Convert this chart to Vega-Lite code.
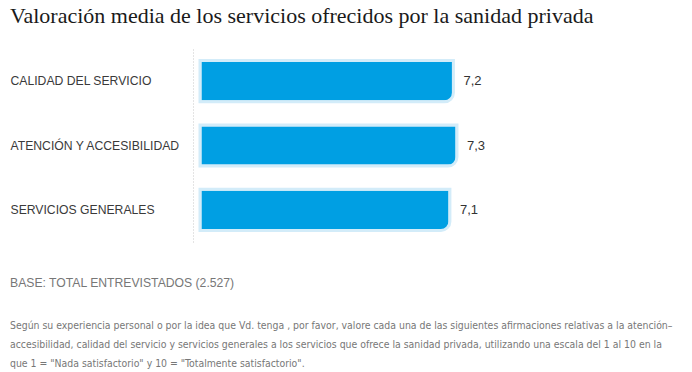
{
  "$schema": "https://vega.github.io/schema/vega-lite/v6.json",
  "background": "white",
  "padding": {"left": 10, "top": 5, "right": 5, "bottom": 0},
  "config": {
    "view": {"stroke": null},
    "locale": {"number": {"decimal": ",", "thousands": ".", "grouping": [3], "currency": ["", " €"]}}
  },
  "title": {
    "text": "Valoración media de los servicios ofrecidos por la sanidad privada",
    "anchor": "start",
    "font": "Liberation Serif",
    "fontSize": 22,
    "fontWeight": "normal",
    "color": "#1a1a1a",
    "offset": 21
  },
  "vconcat": [
    {
      "width": 352,
      "height": 193,
      "data": {
        "values": [
          {"servicio": "CALIDAD DEL SERVICIO", "valor": 7.2},
          {"servicio": "ATENCIÓN Y ACCESIBILIDAD", "valor": 7.3},
          {"servicio": "SERVICIOS GENERALES", "valor": 7.1}
        ]
      },
      "title": {
        "text": "BASE: TOTAL ENTREVISTADOS (2.527)",
        "orient": "bottom",
        "anchor": "start",
        "frame": "bounds",
        "font": "Liberation Sans",
        "fontSize": 12.2,
        "fontWeight": "normal",
        "color": "#777777",
        "offset": 35,
        "subtitle": [
          "Según su experiencia personal o por la idea que Vd. tenga , por favor, valore cada una de las siguientes afirmaciones relativas a la atención–",
          "accesibilidad, calidad del servicio y servicios generales a los servicios que ofrece la sanidad privada, utilizando una escala del 1 al 10 en la",
          "que 1 = \"Nada satisfactorio\" y 10 = \"Totalmente satisfactorio\"."
        ],
        "subtitleFont": "DejaVu Sans Condensed",
        "subtitleFontSize": 10.4,
        "subtitleColor": "#777777",
        "subtitleLineHeight": 19,
        "subtitlePadding": 32
      },
      "encoding": {
        "y": {
          "field": "servicio",
          "type": "nominal",
          "sort": null,
          "scale": {"paddingInner": 0.36, "paddingOuter": 0.18},
          "axis": {
            "title": null,
            "domain": true,
            "domainColor": "#c8c8c8",
            "domainDash": [1, 2],
            "domainWidth": 1,
            "ticks": false,
            "labelAlign": "left",
            "labelPadding": 183,
            "labelFont": "Liberation Sans",
            "labelFontSize": 12.2,
            "labelColor": "#3a3a3a",
            "labelLimit": 200,
            "offset": 7
          }
        }
      },
      "layer": [
        {
          "mark": {"type": "bar", "color": "#009fe3", "stroke": "#d3ecf9", "strokeWidth": 3, "cornerRadiusBottomRight": 9},
          "encoding": {
            "x": {"field": "valor", "type": "quantitative", "scale": {"domain": [0, 10]}, "axis": null}
          }
        },
        {
          "mark": {"type": "text", "align": "left", "dx": 10, "font": "Liberation Sans", "fontSize": 13, "color": "#333333"},
          "encoding": {
            "x": {"field": "valor", "type": "quantitative"},
            "text": {"field": "valor", "type": "quantitative", "format": ".1f"}
          }
        }
      ]
    }
  ]
}
